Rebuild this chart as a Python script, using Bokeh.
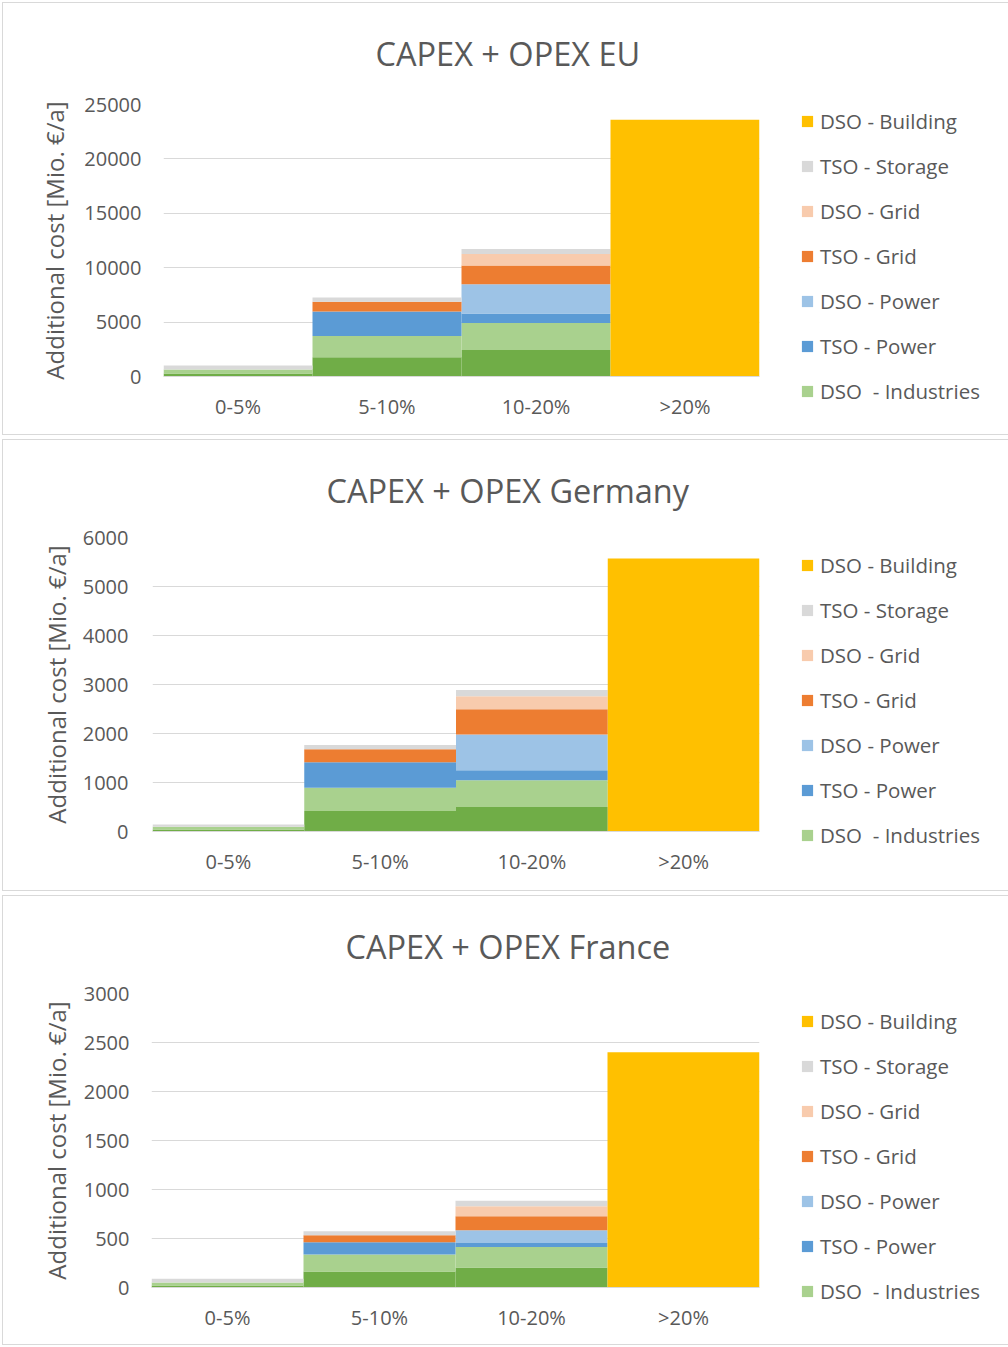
from bokeh.plotting import figure
from bokeh.models import Legend, LegendItem, Title, FixedTicker, Range1d
from bokeh.embed import file_html
from bokeh.resources import INLINE

categories = ["0-5%", "5-10%", "10-20%", ">20%"]

series_keys = ["tso_ind", "dso_ind", "tso_power", "dso_power",
               "tso_grid", "dso_grid", "tso_storage", "dso_building"]
series_labels = ["TSO - Industries", "DSO  - Industries", "TSO - Power", "DSO - Power",
                 "TSO - Grid", "DSO - Grid", "TSO - Storage", "DSO - Building"]
series_colors = ["#70AD47", "#A9D18E", "#5B9BD5", "#9DC3E6",
                 "#ED7D31", "#F8CBAD", "#D9D9D9", "#FFC000"]

# EU values [Mio. EUR/a]
eu_tso_ind = [280, 1770, 2440, 0]
eu_dso_ind = [370, 1950, 2480, 0]
eu_tso_power = [0, 2260, 870, 0]
eu_dso_power = [0, 0, 2690, 0]
eu_tso_grid = [0, 900, 1730, 0]
eu_dso_grid = [0, 0, 1050, 0]
eu_tso_storage = [370, 370, 460, 0]
eu_dso_building = [0, 0, 0, 23600]

# Germany values
de_tso_ind = [40, 420, 500, 0]
de_dso_ind = [55, 473, 548, 0]
de_tso_power = [0, 520, 203, 0]
de_dso_power = [0, 0, 730, 0]
de_tso_grid = [0, 264, 514, 0]
de_dso_grid = [0, 0, 264, 0]
de_tso_storage = [47, 88, 128, 0]
de_dso_building = [0, 0, 0, 5570]

# France values
fr_tso_ind = [20, 162, 203, 0]
fr_dso_ind = [30, 176, 210, 0]
fr_tso_power = [0, 125, 40, 0]
fr_dso_power = [0, 0, 132, 0]
fr_tso_grid = [0, 71, 142, 0]
fr_dso_grid = [0, 0, 101, 0]
fr_tso_storage = [40, 40, 57, 0]
fr_dso_building = [0, 0, 0, 2400]

eu_ticks = [0, 5000, 10000, 15000, 20000, 25000]
de_ticks = [0, 1000, 2000, 3000, 4000, 5000, 6000]
fr_ticks = [0, 500, 1000, 1500, 2000, 2500, 3000]

TXT = "#595959"
FONT = "Open Sans"
WIDTH = 1008
FRAME_RIGHT = 759


def make_panel(title, values, ticks, height, left, top, bottom, lbl_standoff,
               axis_standoff, title_offset, title_standoff):
    src = {"cat": categories}
    for k, v in zip(series_keys, values):
        src[k] = v
    right = WIDTH - FRAME_RIGHT
    frame_w = WIDTH - left - right
    frame_h = height - top - bottom
    p = figure(x_range=categories, y_range=Range1d(ticks[0], ticks[-1]),
               frame_width=frame_w, frame_height=frame_h,
               min_border_left=left, min_border_right=right,
               min_border_top=top, min_border_bottom=bottom,
               output_backend="svg", toolbar_location=None,
               styles={"outline": "1px solid #D9D9D9", "outline-offset": "-3px"})
    p.border_fill_color = None
    p.background_fill_color = None
    renderers = p.vbar_stack(series_keys, x="cat", width=1.0, source=src,
                             fill_color=series_colors, line_color=None)
    p.outline_line_color = None
    p.xgrid.grid_line_color = None
    p.ygrid.grid_line_color = "#D9D9D9"
    p.ygrid.grid_line_width = 1

    p.yaxis.ticker = FixedTicker(ticks=ticks)
    p.yaxis.axis_line_color = None
    p.yaxis.major_tick_line_color = None
    p.yaxis.minor_tick_line_color = None
    p.yaxis.major_tick_out = 0
    p.yaxis.major_tick_in = 0
    p.yaxis.major_label_standoff = lbl_standoff
    p.yaxis.major_label_text_font = FONT
    p.yaxis.major_label_text_font_size = "20px"
    p.yaxis.major_label_text_color = TXT
    p.yaxis.axis_label = "Additional cost [Mio. €/a]"
    p.yaxis.axis_label_text_font = FONT
    p.yaxis.axis_label_text_font_size = "24px"
    p.yaxis.axis_label_text_font_style = "normal"
    p.yaxis.axis_label_text_color = TXT
    p.yaxis.axis_label_standoff = axis_standoff

    p.xaxis.axis_line_color = "#D9D9D9"
    p.xaxis.major_tick_line_color = None
    p.xaxis.minor_tick_line_color = None
    p.xaxis.major_tick_out = 0
    p.xaxis.major_tick_in = 0
    p.xaxis.major_label_standoff = 16
    p.xaxis.major_label_text_font = FONT
    p.xaxis.major_label_text_font_size = "20px"
    p.xaxis.major_label_text_color = TXT

    p.title = Title(text=title, align="left", offset=title_offset,
                    standoff=title_standoff, vertical_align="top",
                    text_font=FONT, text_font_size="32.5px",
                    text_font_style="normal", text_color=TXT)

    items = []
    for i in range(len(series_keys) - 1, 0, -1):
        items.append(LegendItem(label=series_labels[i], renderers=[renderers[i]]))
    legend = Legend(items=items, location=(41, frame_h / 2 - 165),
                    padding=0, margin=0, spacing=17,
                    glyph_width=14, glyph_height=14, label_standoff=6,
                    label_height=20,
                    label_text_font=FONT, label_text_font_size="20.5px",
                    label_text_color=TXT,
                    border_line_color=None, background_fill_alpha=0)
    p.add_layout(legend, "right")
    return p


p1 = make_panel("CAPEX + OPEX EU",
                [eu_tso_ind, eu_dso_ind, eu_tso_power, eu_dso_power,
                 eu_tso_grid, eu_dso_grid, eu_tso_storage, eu_dso_building],
                eu_ticks, 437, 163, 104, 61, 22, 10, 212, 53)
p2 = make_panel("CAPEX + OPEX Germany",
                [de_tso_ind, de_dso_ind, de_tso_power, de_dso_power,
                 de_tso_grid, de_dso_grid, de_tso_storage, de_dso_building],
                de_ticks, 456, 152, 100, 62, 24, 7, 174, 45)
p3 = make_panel("CAPEX + OPEX France",
                [fr_tso_ind, fr_dso_ind, fr_tso_power, fr_dso_power,
                 fr_tso_grid, fr_dso_grid, fr_tso_storage, fr_dso_building],
                fr_ticks, 454, 151, 100, 60, 22, 8, 194, 45)

open("out.html", "w").write(file_html([p1, p2, p3], INLINE))
